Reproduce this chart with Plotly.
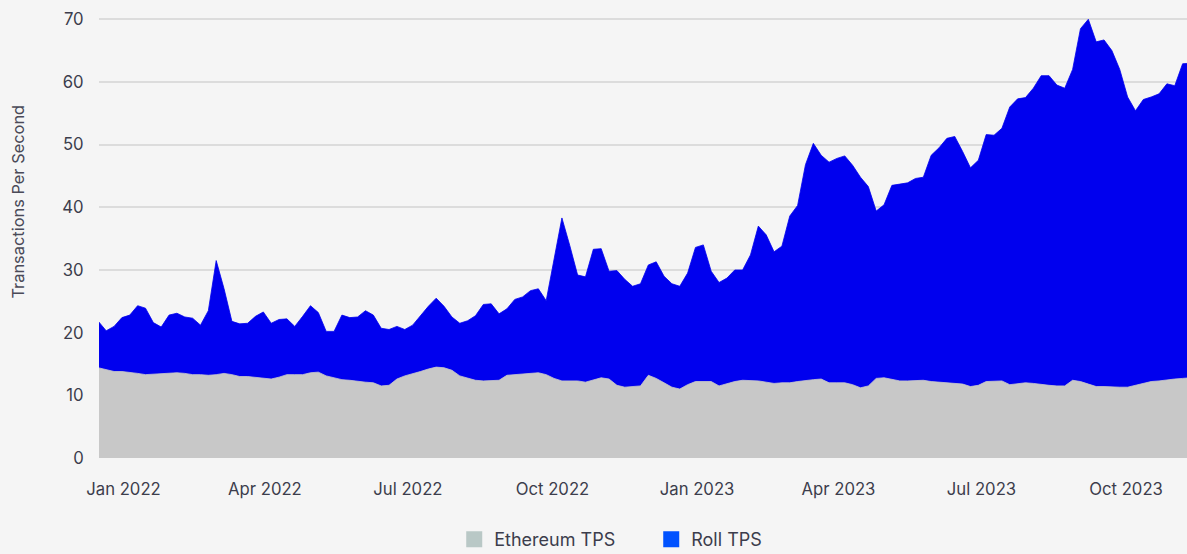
import pandas as pd
import plotly.graph_objects as go

start_date = "2021-12-16"
step = "5D"

ethereum_tps = [
    14.4, 14.1, 13.8, 13.8, 13.7, 13.5, 13.3, 13.4, 13.5, 13.6,
    13.6, 13.5, 13.3, 13.3, 13.2, 13.3, 13.5, 13.3, 13.0, 13.0,
    12.9, 12.8, 12.6, 12.9, 13.3, 13.3, 13.3, 13.6, 13.7, 13.1,
    12.8, 12.5, 12.4, 12.2, 12.1, 12.0, 11.5, 11.6, 12.6, 13.1,
    13.4, 13.8, 14.2, 14.5, 14.4, 14.0, 13.1, 12.8, 12.4, 12.3,
    12.3, 12.4, 13.2, 13.3, 13.3, 13.4, 13.6, 13.3, 12.7, 12.3,
    12.3, 12.3, 12.1, 12.4, 12.8, 12.6, 11.6, 11.3, 11.4, 11.5,
    13.2, 12.7, 12.0, 11.3, 11.0, 11.7, 12.2, 12.2, 12.2, 11.5,
    11.9, 12.2, 12.4, 12.4, 12.3, 12.1, 11.9, 12.0, 12.0, 12.2,
    12.4, 12.5, 12.6, 12.0, 12.0, 12.0, 11.7, 11.2, 11.5, 12.7,
    12.8, 12.5, 12.3, 12.3, 12.3, 12.4, 12.2, 12.1, 12.1, 12.0,
    11.8, 11.4, 11.6, 12.2, 12.3, 12.3, 11.7, 11.8, 12.0, 11.9,
    11.7, 11.6, 11.5, 11.5, 12.4, 12.2, 11.8, 11.4, 11.4, 11.3,
    11.3, 11.3, 11.6, 11.9, 12.2, 12.3, 12.5, 12.6, 12.7, 12.8,
]

roll_tps = [
    7.4, 6.2, 7.2, 8.6, 9.1, 10.8, 10.6, 8.2, 7.4, 9.2,
    9.5, 9.0, 9.0, 7.9, 10.3, 18.2, 13.5, 8.5, 8.4, 8.5,
    9.7, 10.5, 8.9, 9.2, 8.9, 7.7, 9.3, 10.7, 9.5, 7.1,
    7.4, 10.3, 10.0, 10.3, 11.4, 10.8, 9.2, 8.9, 8.4, 7.4,
    7.8, 8.9, 10.0, 11.0, 9.8, 8.5, 8.4, 9.1, 10.3, 12.2,
    12.3, 10.6, 10.6, 12.0, 12.4, 13.3, 13.4, 11.8, 19.3, 26.0,
    21.6, 16.9, 16.8, 20.9, 20.6, 17.2, 18.3, 17.2, 16.0, 16.3,
    17.6, 18.6, 17.0, 16.5, 16.4, 17.8, 21.4, 21.8, 17.6, 16.5,
    16.8, 17.8, 17.6, 20.0, 24.7, 23.5, 21.0, 21.8, 26.6, 28.1,
    34.4, 37.7, 35.7, 35.2, 35.8, 36.2, 35.0, 33.6, 31.8, 26.7,
    27.6, 31.0, 31.4, 31.6, 32.3, 32.4, 36.1, 37.4, 38.9, 39.3,
    37.1, 34.9, 35.9, 39.4, 39.2, 40.3, 44.3, 45.5, 45.5, 47.1,
    49.3, 49.4, 48.0, 47.5, 49.6, 56.3, 58.2, 55.0, 55.3, 53.7,
    50.7, 46.3, 43.8, 45.3, 45.4, 45.8, 47.2, 46.8, 50.2, 50.2,
]

dates = pd.date_range(start=start_date, periods=len(ethereum_tps), freq=step)

series_names = ["Ethereum TPS", "Roll TPS"]
fill_colors = ["#c8c8c8", "#0000ee"]
legend_colors = ["#b9c8c6", "#0052ff"]
y_ticks = [0, 10, 20, 30, 40, 50, 60, 70]
x_tick_dates = ["2022-01-01", "2022-04-01", "2022-07-01", "2022-10-01",
                "2023-01-01", "2023-04-01", "2023-07-01", "2023-10-01"]
x_tick_labels = ["Jan 2022", "Apr 2022", "Jul 2022", "Oct 2022",
                 "Jan 2023", "Apr 2023", "Jul 2023", "Oct 2023"]

text_color = "#3c3d4c"
font_family = "Inter, Roboto, 'Noto Sans', sans-serif"

fig = go.Figure()
for name, vals, col in zip(series_names, [ethereum_tps, roll_tps], fill_colors):
    fig.add_trace(go.Scatter(
        x=dates, y=vals, name=name, mode="lines",
        stackgroup="one", line=dict(color=col, width=0.8),
        fillcolor=col, showlegend=False,
    ))

# legend swatches
for name, col in zip(series_names, legend_colors):
    fig.add_trace(go.Scatter(
        x=[None], y=[None], name=name, mode="markers",
        marker=dict(symbol="square", size=18, color=col),
    ))

fig.update_layout(
    width=1187, height=554,
    margin=dict(l=99, r=0, t=13, b=96),
    paper_bgcolor="#f5f5f5", plot_bgcolor="#f5f5f5",
    font=dict(family=font_family, color=text_color, size=16),
    showlegend=True,
    legend=dict(
        orientation="h", x=0.3265, xanchor="left",
        yref="container", y=0.026, yanchor="middle",
        font=dict(size=18, color=text_color),
        entrywidth=152, bgcolor="rgba(0,0,0,0)",
        itemsizing="trace", traceorder="normal",
    ),
    xaxis=dict(
        range=["2021-12-16 10:00", "2023-11-08 19:00"],
        tickvals=x_tick_dates, ticktext=x_tick_labels,
        showgrid=False, zeroline=False, showline=False,
        ticks="outside", ticklen=16, tickcolor="rgba(0,0,0,0)",
        tickfont=dict(size=16.7, color=text_color),
    ),
    yaxis=dict(
        range=[0, 71], tickvals=y_ticks,
        showgrid=True, gridcolor="#dcdcdc", gridwidth=1.5,
        zeroline=False, showline=False,
        ticks="outside", ticklen=11, tickcolor="rgba(0,0,0,0)",
        tickfont=dict(size=16.7, color=text_color),
    ),
    annotations=[dict(
        text="Transactions Per Second", textangle=-90,
        xref="paper", yref="paper", x=-0.0745, y=0.576,
        xanchor="center", yanchor="middle", showarrow=False,
        font=dict(size=16.4, color="#4a4a58"),
    )],
)

fig.write_html(
    "out.html",
    config={"displayModeBar": False},
    post_script="document.body.style.margin='0';document.body.style.background='#f5f5f5';",
)
